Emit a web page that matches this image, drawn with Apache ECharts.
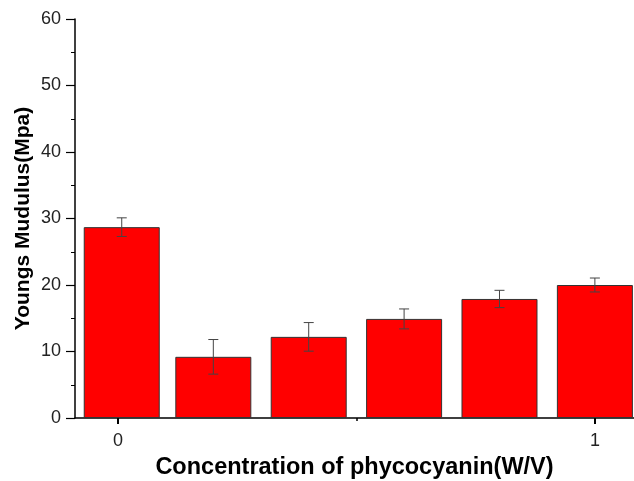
<!DOCTYPE html>
<html>
<head>
<meta charset="utf-8">
<script src="https://cdn.jsdelivr.net/npm/echarts@6/dist/echarts.min.js"></script>
<style>
html,body{margin:0;padding:0;background:#fff;}
#chart{width:634px;height:481px;}
</style>
</head>
<body>
<div id="chart"></div>
<script>
const xPositions = [0.008, 0.2, 0.4, 0.6, 0.8, 1.0];
const values = [28.7, 9.2, 12.2, 14.9, 17.9, 20.0];
const errors = [1.4, 2.6, 2.15, 1.5, 1.3, 1.05];
const xTickLabels = [0, 1];
const xMinorTicks = [0.5];
const yTitle = 'Youngs Mudulus(Mpa)';
const xTitle = 'Concentration of phycocyanin(W/V)';

const barData = xPositions.map((x, i) => [x, values[i]]);
const errData = xPositions.map((x, i) => [x, values[i] - errors[i], values[i] + errors[i]]);

const chart = echarts.init(document.getElementById('chart'), null, {renderer: 'canvas'});
const FONT = 'Liberation Sans, Arial, sans-serif';

chart.setOption({
  animation: false,
  backgroundColor: '#fff',
  grid: {left: 75, right: 0, top: 19, bottom: 63, containLabel: false, outerBoundsMode: 'none'},
  xAxis: [{
    type: 'value',
    min: -0.09,
    max: 1.082,
    position: 'bottom',
    name: xTitle,
    nameLocation: 'middle',
    nameGap: 38,
    nameMoveOverlap: false,
    nameTextStyle: {fontFamily: FONT, fontSize: 23.5, fontWeight: 'bold', color: '#000'},
    axisLine: {show: true, lineStyle: {color: '#000', width: 1.5}},
    axisTick: {show: true, customValues: xTickLabels, length: 6, lineStyle: {color: '#000', width: 2}},
    axisLabel: {customValues: xTickLabels, margin: 14, fontFamily: FONT, fontSize: 18, color: '#222'},
    splitLine: {show: false}
  }, {
    type: 'value',
    min: -0.09,
    max: 1.082,
    position: 'bottom',
    axisLine: {show: false},
    axisTick: {show: true, customValues: xMinorTicks, length: 3, lineStyle: {color: '#000', width: 1.5}},
    axisLabel: {show: false},
    splitLine: {show: false}
  }],
  yAxis: {
    type: 'value',
    min: 0,
    max: 60,
    interval: 10,
    name: yTitle,
    nameLocation: 'middle',
    nameGap: 41.5,
    nameMoveOverlap: false,
    nameTextStyle: {fontFamily: FONT, fontSize: 21, fontWeight: 'bold', color: '#000'},
    axisLine: {show: true, onZero: false, lineStyle: {color: '#000', width: 1.5}},
    axisTick: {show: true, length: 9, lineStyle: {color: '#000', width: 1.2}},
    minorTick: {show: true, splitNumber: 2, length: 4, lineStyle: {color: '#000', width: 1}},
    axisLabel: {margin: 14, fontFamily: FONT, fontSize: 18, color: '#222'},
    splitLine: {show: false},
    minorSplitLine: {show: false}
  },
  series: [{
    type: 'bar',
    data: barData,
    barWidth: 76,
    itemStyle: {color: '#ff0000', borderColor: '#333', borderWidth: 1},
    z: 2
  }, {
    type: 'custom',
    data: errData,
    z: 3,
    renderItem: function (params, api) {
      const x = api.value(0);
      const lo = api.coord([x, api.value(1)]);
      const hi = api.coord([x, api.value(2)]);
      const hw = 5;
      const style = {stroke: '#444', lineWidth: 1};
      return {
        type: 'group',
        children: [
          {type: 'line', shape: {x1: lo[0], y1: lo[1], x2: hi[0], y2: hi[1]}, style: style},
          {type: 'line', shape: {x1: hi[0] - hw, y1: hi[1], x2: hi[0] + hw, y2: hi[1]}, style: style},
          {type: 'line', shape: {x1: lo[0] - hw, y1: lo[1], x2: lo[0] + hw, y2: lo[1]}, style: style}
        ]
      };
    }
  }]
});
</script>
</body>
</html>
